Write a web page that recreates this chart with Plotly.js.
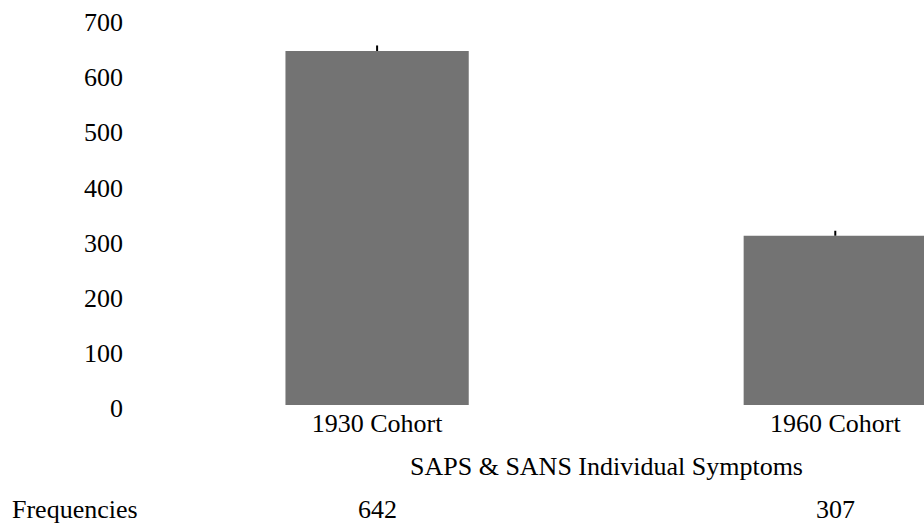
<!DOCTYPE html>
<html>
<head>
<meta charset="utf-8">
<script src="https://cdn.plot.ly/plotly-3.0.1.min.js"></script>
<style>html,body{margin:0;padding:0;background:#fff;}#chart{width:924px;height:523px;}</style>
</head>
<body>
<div id="chart"></div>
<script>
const categories = ["1930 Cohort", "1960 Cohort"];
const frequencies = [642, 307];
const errorsUp = [10, 9];
const yTicks = [0, 100, 200, 300, 400, 500, 600, 700];
const xAxisTitle = "SAPS & SANS Individual Symptoms";
const rowLabel = "Frequencies";

const FONT = {family: '"Liberation Serif", "Times New Roman", serif', size: 26, color: '#000'};

const trace = {
  type: 'bar',
  x: [0, 1],
  y: frequencies,
  width: 0.4,
  marker: {color: '#737373', line: {width: 0}},
  error_y: {
    type: 'data', symmetric: false,
    array: errorsUp, arrayminus: errorsUp.map(() => 0),
    width: 0, thickness: 2, color: '#000'
  },
  hoverinfo: 'none'
};

const annotations = [
  {xref: 'x', yref: 'paper', x: 0.5, y: -0.16, xanchor: 'center', yanchor: 'middle',
   text: xAxisTitle, showarrow: false, font: FONT},
  {xref: 'paper', yref: 'paper', x: -0.178, y: -0.272, xanchor: 'left', yanchor: 'middle',
   text: rowLabel, showarrow: false, font: FONT}
];
frequencies.forEach((v, i) => {
  annotations.push({xref: 'x', yref: 'paper', x: i, y: -0.272, xanchor: 'center', yanchor: 'middle',
    text: String(v), showarrow: false, font: FONT});
});

const layout = {
  width: 924, height: 523,
  margin: {l: 148, r: 0, t: 19, b: 118, pad: 0},
  paper_bgcolor: '#fff', plot_bgcolor: '#fff',
  font: FONT,
  showlegend: false,
  xaxis: {
    range: [-0.5, 1.1936],
    tickvals: [0, 1], ticktext: categories,
    showline: false, showgrid: false, zeroline: false, ticks: '',
    tickfont: FONT, fixedrange: true
  },
  yaxis: {
    range: [0, 700],
    tickvals: yTicks, ticktext: yTicks.map(String),
    showline: false, showgrid: false, zeroline: false, ticks: '',
    tickfont: FONT, ticklabelstandoff: 24, ticklabelshift: 3, fixedrange: true
  },
  annotations: annotations
};

Plotly.newPlot('chart', [trace], layout, {displayModeBar: false, staticPlot: true});
</script>
</body>
</html>
